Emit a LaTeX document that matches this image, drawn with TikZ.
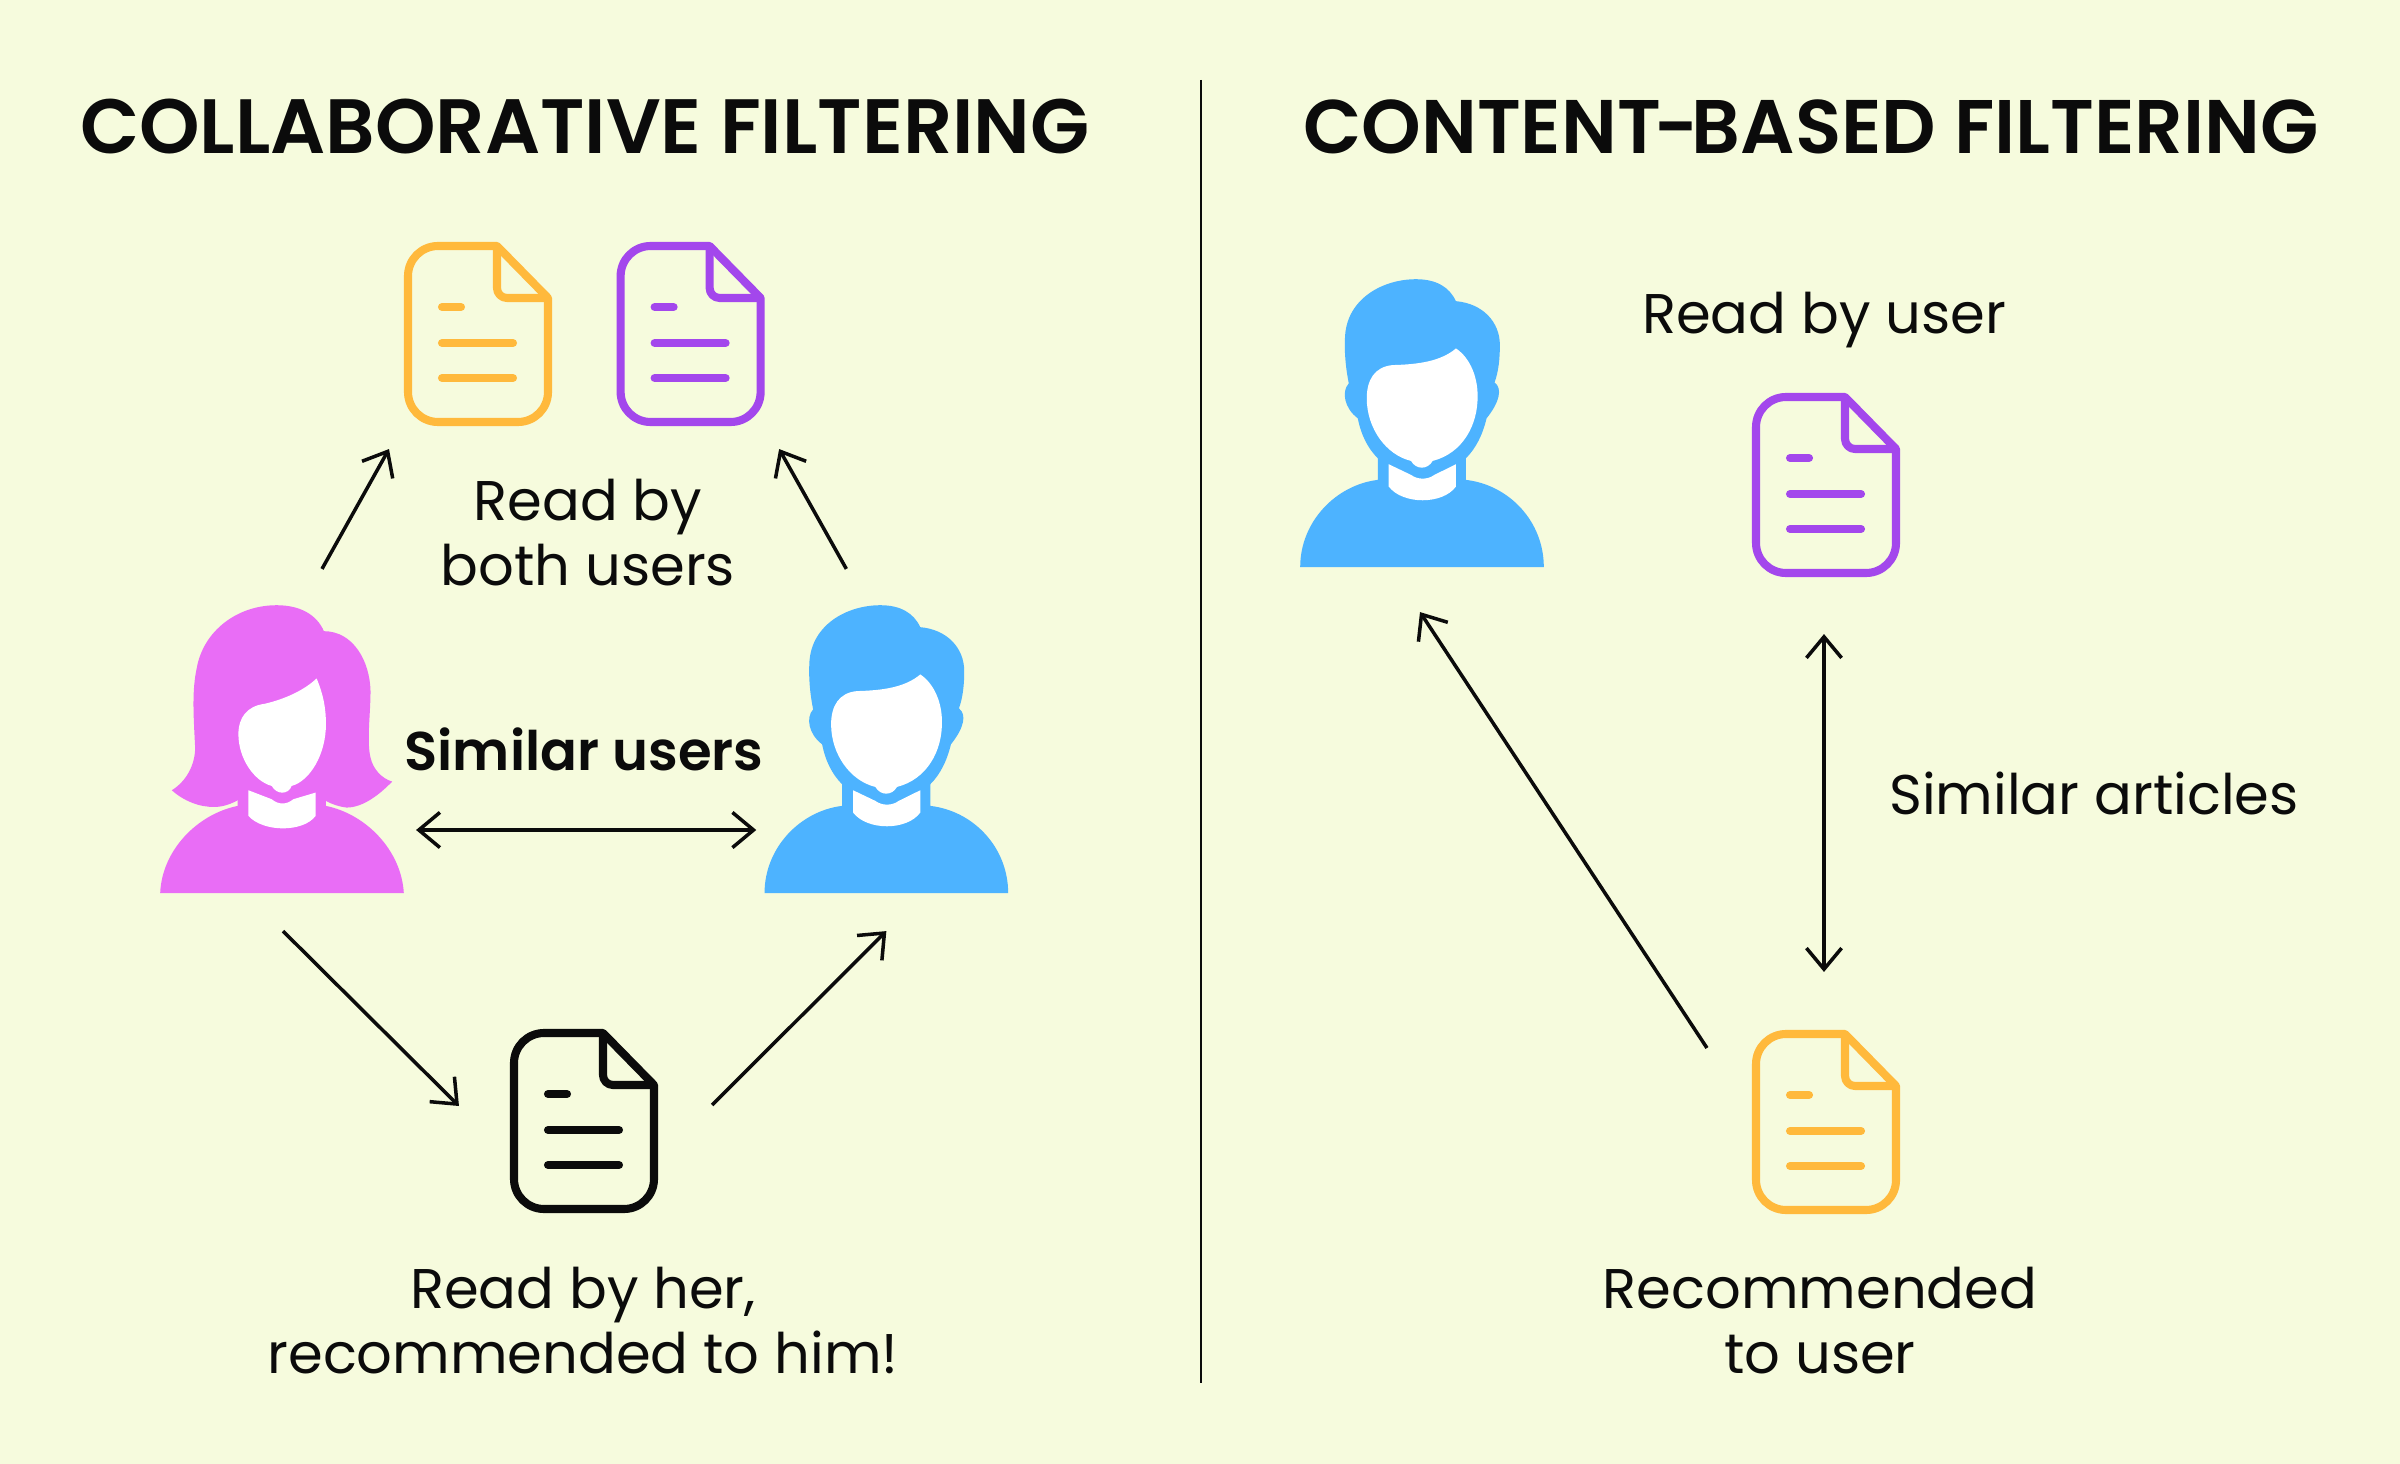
\documentclass[tikz,border=0pt]{standalone}
\usepackage{fontspec}
\setmainfont{Poppins}
\newfontfamily\titlefont{Poppins SemiBold}
\usepackage{tikz}
\usetikzlibrary{positioning,calc,arrows.meta}

\definecolor{paperbg}{HTML}{F6FBDD}
\definecolor{hairpink}{HTML}{E96DF6}
\definecolor{hairblue}{HTML}{4DB3FF}
\definecolor{docyellow}{HTML}{FFB93C}
\definecolor{docpurple}{HTML}{A347EC}
\definecolor{inkblack}{HTML}{0B0B0B}

\tikzset{
	iconbox/.style={inner sep=0pt,outer sep=0pt,minimum width=#1},
	titletext/.style={inner sep=0pt,font=\titlefont\fontsize{21.9}{30}\selectfont,text=inkblack},
	bodytext/.style={inner sep=0pt,align=center,font=\fontsize{15.9}{18.5}\selectfont,text=inkblack},
	linkarrow/.style={draw=inkblack,line width=1pt,-{Straight Barb[length=6pt,width=10pt]}},
	bothways/.style={draw=inkblack,line width=1pt,{Straight Barb[length=6pt,width=10pt]}-{Straight Barb[length=6pt,width=10pt]}},
	pics/docicon/.style={code={
		\draw[#1,line width=2.3pt,line join=round] (19,-88) [rounded corners=.3cm] -- (-70,-88) -- (-70,88) -- (70,88) [sharp corners] -- (70,-36) -- cycle;
		\draw[#1,line width=2.3pt,line join=round] (19,-88) [rounded corners=.1cm] -- (19,-36) [sharp corners] -- (70,-36);
		\draw[#1,line width=2.3pt,line cap=round] (-36,-27) -- (-17,-27);
		\draw[#1,line width=2.3pt,line cap=round] (-36,9) -- (35,9);
		\draw[#1,line width=2.3pt,line cap=round] (-36,44) -- (35,44);
	}},
	pics/manicon/.style={code={
		\begin{scope}[x=.003333cm,y=-.003333cm,shift={(-438,-937)}]
			\fill[hairblue] (72,937) .. controls (72,800) and (180,690) .. (305,675) -- (305,590) -- (570,590) -- (570,675) .. controls (700,690) and (804,800) .. (804,937) -- cycle;
			\fill[hairblue] (218,385) .. controls (205,320) and (205,270) .. (207,240) .. controls (215,130) and (320,72) .. (420,72) .. controls (480,72) and (520,95) .. (540,138) .. controls (620,145) and (672,200) .. (672,270) .. controls (672,310) and (668,350) .. (656,382) .. controls (680,400) and (672,440) .. (632,490) .. controls (620,540) and (600,580) .. (570,610) -- (305,610) .. controls (275,580) and (255,540) .. (245,490) .. controls (205,460) and (195,410) .. (218,385) -- cycle;
			\fill[white] (540,280) .. controls (585,310) and (605,370) .. (605,420) .. controls (607,510) and (560,595) .. (470,618) .. controls (455,645) and (420,645) .. (405,618) .. controls (330,600) and (272,520) .. (272,430) .. controls (272,375) and (295,335) .. (350,330) .. controls (430,328) and (495,318) .. (540,280) -- cycle;
			\fill[white] (338,628) -- (405,660) .. controls (425,675) and (455,675) .. (475,660) -- (540,628) -- (540,695) .. controls (500,750) and (380,750) .. (338,695) -- cycle;
		\end{scope}
	}},
	pics/womanicon/.style={code={
		\begin{scope}[x=.003333cm,y=-.003333cm,shift={(-426,-937)}]
			\fill[hairpink] (60,937) .. controls (65,810) and (170,700) .. (293,675) -- (293,650) -- (558,650) -- (558,675) .. controls (680,700) and (785,810) .. (792,937) -- cycle;
			\fill[hairpink] (95,628) .. controls (140,600) and (165,550) .. (165,500) .. controls (160,400) and (155,330) .. (170,260) .. controls (190,150) and (290,72) .. (410,72) .. controls (480,72) and (530,100) .. (552,150) .. controls (640,150) and (690,240) .. (692,330) .. controls (692,400) and (680,480) .. (692,530) .. controls (700,565) and (725,592) .. (757,602) .. controls (720,640) and (670,680) .. (620,680) .. controls (600,678) and (575,670) .. (558,660) -- (293,658) .. controls (275,668) and (250,678) .. (225,678) .. controls (180,680) and (130,660) .. (95,628) -- cycle;
			\fill[white] (530,292) .. controls (550,340) and (558,380) .. (558,430) .. controls (558,520) and (510,600) .. (455,615) .. controls (445,642) and (410,642) .. (395,615) .. controls (340,600) and (295,530) .. (295,460) .. controls (295,410) and (320,375) .. (375,368) .. controls (430,355) and (490,330) .. (530,292) -- cycle;
			\fill[white] (325,628) -- (395,655) .. controls (415,672) and (440,672) .. (460,655) -- (527,635) -- (527,705) .. controls (490,755) and (370,755) .. (325,705) -- cycle;
		\end{scope}
	}},
}

\begin{document}
\begin{tikzpicture}[x=.01cm,y=-.01cm]
	\fill[paperbg] (0,0) rectangle (2400,1464);
	\useasboundingbox (0,0) rectangle (2400,1464);

	\node[titletext] (titleLeft) at (585,127) {COLLABORATIVE FILTERING};
	\node[titletext,font=\titlefont\fontsize{21.6}{30}\selectfont] (titleRight) at (1811,127) {CONTENT\kern-1.9pt-\kern-1.9pt BASED FILTERING};
	\coordinate (dividerTop) at (1201,80);
	\coordinate (dividerBottom) at (1201,1383);
	\draw[inkblack,line width=.6pt] (dividerTop)--(dividerBottom);

	% left panel
	\node[iconbox=2.44cm,minimum height=2.88cm] (woman) at (282,749) {};
	\node[iconbox=2.44cm,minimum height=2.88cm,right=3.6cm of woman] (man) {};
	\node[iconbox=1.48cm,minimum height=1.84cm] (docYellow) at (478,334) {};
	\node[iconbox=1.48cm,minimum height=1.84cm,right=.645cm of docYellow] (docPurple) {};
	\node[iconbox=1.48cm,minimum height=1.84cm] (docBlack) at (584,1121) {};
	\pic at (woman.south) {womanicon};
	\pic at (man.south) {manicon};
	\pic at (docYellow) {docicon=docyellow};
	\pic at (docPurple) {docicon=docpurple};
	\pic at (docBlack) {docicon=inkblack};

	\node[bodytext] (bothText) at (588,533) {Read by\\both users};
	\node[bodytext,font=\titlefont\fontsize{15.5}{18.5}\selectfont] (similarUsers) at (584,749) {Similar users};
	\node[bodytext] (herText) at (583,1321) {Read by her,\\recommended to him!};

	\draw[linkarrow] ($(woman.north)+(40,-36)$)--($(docYellow.south)+(-89,23)$);
	\draw[linkarrow] ($(man.north)+(-40,-36)$)--($(docPurple.south)+(88.5,23)$);
	\draw[bothways] ($(woman.east)+(12,81)$)--($(man.west)+(-8,81)$);
	\draw[linkarrow] ($(woman.south)+(1,38)$)--($(docBlack.west)+(-51,-15)$);
	\draw[linkarrow] ($(docBlack.east)+(54,-16)$)--($(man.south)+(0,38)$);

	% right panel
	\node[iconbox=2.44cm,minimum height=2.88cm] (manRight) at (1422,423) {};
	\node[iconbox=1.48cm,minimum height=1.84cm] (docPurpleRight) at (1826,485) {};
	\node[iconbox=1.48cm,minimum height=1.84cm] (docYellowRight) at (1826,1122) {};
	\pic at (manRight.south) {manicon};
	\pic at (docPurpleRight) {docicon=docpurple};
	\pic at (docYellowRight) {docicon=docyellow};

	\node[bodytext] (readUser) at (1824,320) {Read by user};
	\node[bodytext] (similarArticles) at (2094,793) {Similar articles};
	\node[bodytext] (recommended) at (1820,1321) {Recommended\\to user};

	\draw[bothways] ($(docPurpleRight.south)+(-2,57)$)--($(docYellowRight.north)+(-2,-58)$);
	\draw[linkarrow] ($(docYellowRight.west)+(-45,-74)$)--($(manRight.south)+(-2,45)$);
\end{tikzpicture}
\end{document}
